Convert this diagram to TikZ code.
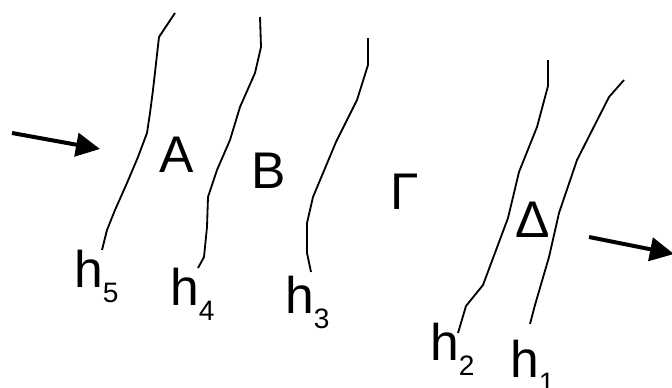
\documentclass[tikz,border=0pt]{standalone}
\usepackage{fontspec}
\setmainfont{Liberation Sans}
\usetikzlibrary{arrows.meta}
\tikzset{
  front/.style={
    line width=0.055cm,
    line join=round
  },
  flow/.style={
    line width=0.12cm,
    -{Triangle[length=0.72cm,width=0.7cm]}
  },
  zone/.style={
    inner sep=0,
    anchor=base west,
    font=\fontsize{44}{50}\selectfont
  }
}
\newcommand{\hsub}[1]{h\raisebox{-0.45cm}{\fontsize{24}{26}\selectfont #1}}

\begin{document}
\begin{tikzpicture}[x=0.03cm,y=-0.03cm]
            \useasboundingbox (0,0) rectangle (672,387);
            % fronts
            \draw[front] (175,13)--(159,37)--(153,90)--(150,113)--(147,133)--(138,157)--(127,183)--(115,210)--(107,230)--(102,250);
            \draw[front] (260,17)--(261,47)--(255,73)--(240,107)--(230,140)--(217,170)--(208,197)--(207,227)--(204,257)--(198,268);
            \draw[front] (368,38)--(368,65)--(357,100)--(336,142)--(313,197)--(307,223)--(307,253)--(311,272);
            \draw[front] (548,60)--(548,86)--(537,127)--(519,172)--(508,218)--(483,285)--(466,306)--(458,333);
            \draw[front] (624,80)--(609,97)--(577,160)--(559,213)--(549,257)--(535,305)--(530,324);
            % arrows
            \draw[flow] (12,133)--(100,149);
            \draw[flow] (589,237)--(674,254);
            % labels
            \node[zone] (a) at (159,172) {A};
            \node[zone] (b) at (251,188) {B};
            \node[zone] (g) at (390,209) {Γ};
            \node[zone] (d) at (515,237) {Δ};
            \node[zone] (h5) at (74,287) {\hsub{5}};
            \node[zone] (h4) at (170,305) {\hsub{4}};
            \node[zone] (h3) at (285,313) {\hsub{3}};
            \node[zone] (h2) at (430,360) {\hsub{2}};
            \node[zone] (h1) at (510,377) {\hsub{1}};
\end{tikzpicture}
\end{document}
